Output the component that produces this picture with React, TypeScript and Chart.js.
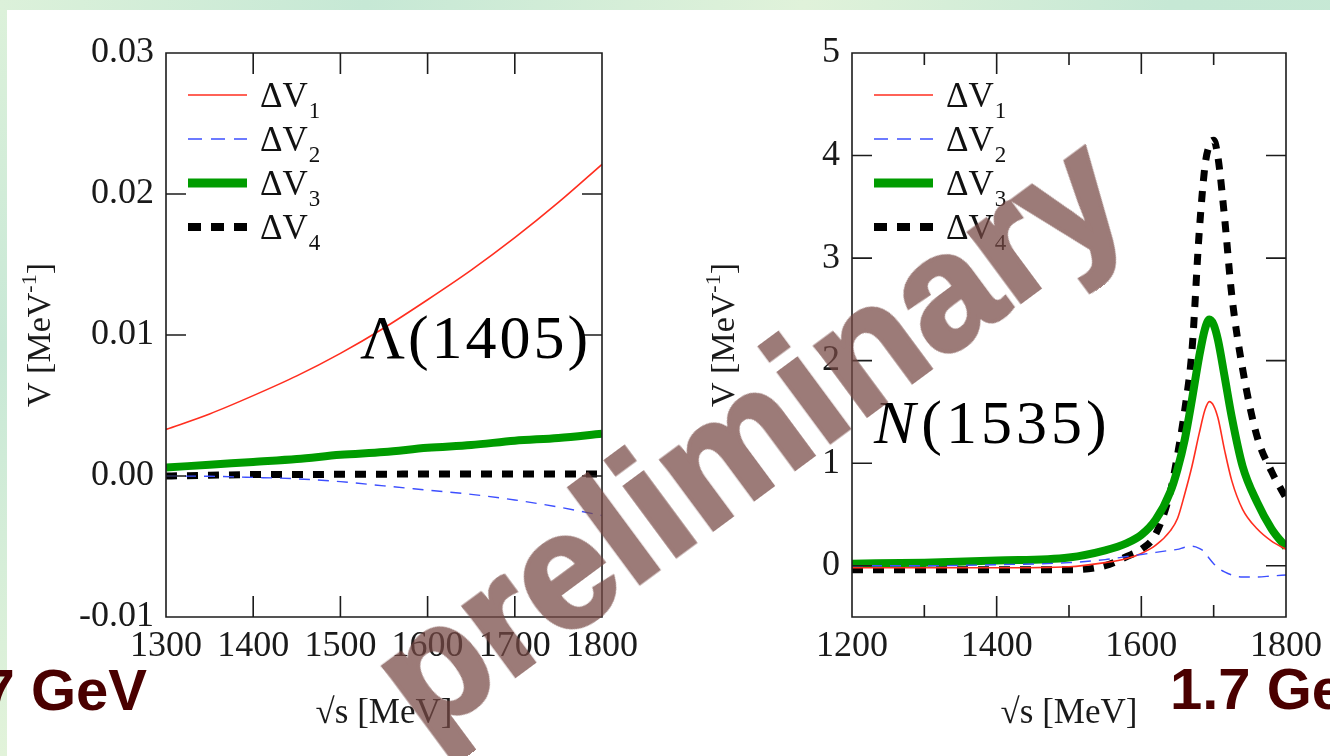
import React, { useEffect, useRef } from "react";
import { Chart, registerables } from "chart.js";

Chart.register(...registerables);

// ---------- Left panel: Lambda(1405) ----------
const LAMBDA_SQRT_S = [1300, 1350, 1400, 1450, 1500, 1550, 1600, 1650, 1700, 1750, 1800];
const LAMBDA_DV1 = [0.0033, 0.0044, 0.0057, 0.0071, 0.0087, 0.0105, 0.0125, 0.0146, 0.0169, 0.0194, 0.0221];
const LAMBDA_DV2 = [0.0, -0.00002, -0.0001, -0.0002, -0.0004, -0.0007, -0.001, -0.0013, -0.0017, -0.0022, -0.0028];
const LAMBDA_DV3 = [0.0006, 0.0008, 0.001, 0.0012, 0.0015, 0.0017, 0.002, 0.0022, 0.0025, 0.0027, 0.003];
const LAMBDA_DV4 = [0.0, 0.00005, 0.0001, 0.0001, 0.00012, 0.00013, 0.00014, 0.00015, 0.00015, 0.00015, 0.00015];
const LAMBDA_X_TICKS = [1300, 1400, 1500, 1600, 1700, 1800];
const LAMBDA_X_LABELS = [1300, 1400, 1500, 1600, 1700, 1800];
const LAMBDA_Y_TICKS = [-0.01, 0, 0.01, 0.02, 0.03];

// ---------- Right panel: N(1535) ----------
const N_SQRT_S = [1200, 1300, 1400, 1500, 1550, 1580, 1600, 1620, 1640, 1650, 1660, 1670, 1680, 1688, 1694, 1700, 1706, 1715, 1725, 1740, 1760, 1780, 1800];
const N_DV1 = [-0.02, -0.02, -0.02, -0.01, 0.03, 0.07, 0.12, 0.2, 0.34, 0.46, 0.7, 0.97, 1.29, 1.52, 1.6, 1.56, 1.44, 1.13, 0.83, 0.55, 0.36, 0.24, 0.16];
const N_DV2 = [0.0, 0.0, 0.01, 0.03, 0.06, 0.09, 0.11, 0.13, 0.15, 0.16, 0.18, 0.19, 0.17, 0.13, 0.07, 0.02, -0.02, -0.06, -0.09, -0.11, -0.11, -0.1, -0.09];
const N_DV3 = [0.02, 0.03, 0.05, 0.08, 0.15, 0.22, 0.3, 0.45, 0.72, 0.94, 1.23, 1.62, 2.04, 2.31, 2.4, 2.35, 2.2, 1.85, 1.45, 0.97, 0.62, 0.36, 0.18];
const N_DV4 = [-0.04, -0.04, -0.04, -0.04, 0.0, 0.09, 0.16, 0.31, 0.72, 1.08, 1.52, 2.1, 3.25, 3.9, 4.1, 4.15, 3.98, 3.4, 2.64, 1.92, 1.26, 0.92, 0.66];
const N_X_TICKS = [1200, 1300, 1400, 1500, 1600, 1700, 1800];
const N_X_LABELS = [1200, 1400, 1600, 1800];
const N_Y_TICKS = [0, 1, 2, 3, 4, 5];

const SUBSCRIPTS = ["1", "2", "3", "4"];

// styles (kept apart from the data)
const STYLES = [
  { color: "#ff2e1f", width: 1.6, dash: [] as number[], legendWidth: 1.6, legendDash: [] as number[], order: 1 },
  { color: "#3d4fff", width: 1.4, dash: [11, 8], legendWidth: 1.4, legendDash: [14, 9], order: 0 },
  { color: "#009c00", width: 8, dash: [] as number[], legendWidth: 9, legendDash: [] as number[], order: 2 },
  { color: "#000000", width: 7, dash: [11, 10], legendWidth: 8, legendDash: [13, 10], order: 3 },
];

const SERIF = '"Liberation Serif", "Times New Roman", serif';
const SANS = '"Liberation Sans", Arial, sans-serif';

type Spec = {
  left: number;
  top: number;
  w: number;
  h: number;
  area: { left: number; right: number; top: number; bottom: number };
  xs: number[];
  ys: number[][];
  xMin: number;
  xMax: number;
  yMin: number;
  yMax: number;
  xTicks: number[];
  xLabels: number[];
  yTicks: number[];
  yFmt: (v: number) => string;
  note: { pre: string; rest: string; x: number; y: number; size: number; spacing: number };
  yTitleX: number;
  xTitleY: number;
};

function decorPlugin(spec: Spec) {
  return {
    id: "decor",
    afterDatasetsDraw(chart: any) {
      const { ctx, chartArea: a } = chart;
      const xs = chart.scales.x;
      const ys = chart.scales.y;
      ctx.save();
      ctx.strokeStyle = "#1c1c1c";
      ctx.lineWidth = 1.6;
      ctx.setLineDash([]);
      ctx.beginPath();
      ctx.rect(a.left, a.top, a.right - a.left, a.bottom - a.top);
      for (const v of spec.xTicks) {
        const p = xs.getPixelForValue(v);
        if (p <= a.left + 1 || p >= a.right - 1) continue;
        const len = spec.xLabels.includes(v) ? 21 : 12;
        ctx.moveTo(p, a.bottom);
        ctx.lineTo(p, a.bottom - len);
        ctx.moveTo(p, a.top);
        ctx.lineTo(p, a.top + len);
      }
      for (const v of spec.yTicks) {
        const p = ys.getPixelForValue(v);
        if (p <= a.top + 1 || p >= a.bottom - 1) continue;
        ctx.moveTo(a.left, p);
        ctx.lineTo(a.left + 20, p);
        ctx.moveTo(a.right, p);
        ctx.lineTo(a.right - 20, p);
      }
      ctx.stroke();
      ctx.restore();
    },
    afterDraw(chart: any) {
      const { ctx, chartArea: a } = chart;
      ctx.save();
      // legend
      const lx0 = a.left + 22;
      const lx1 = a.left + 81;
      const tx = a.left + 94;
      STYLES.forEach((s, i) => {
        const y = a.top + 42 + i * 44;
        ctx.strokeStyle = s.color;
        ctx.lineWidth = s.legendWidth;
        ctx.setLineDash(s.legendDash);
        ctx.lineCap = "butt";
        ctx.beginPath();
        ctx.moveTo(lx0, y);
        ctx.lineTo(lx1, y);
        ctx.stroke();
        ctx.setLineDash([]);
        ctx.fillStyle = "#111";
        ctx.textAlign = "left";
        ctx.textBaseline = "alphabetic";
        ctx.font = `35px ${SERIF}`;
        ctx.fillText("ΔV", tx, y + 12);
        const w = ctx.measureText("ΔV").width;
        ctx.font = `23px ${SERIF}`;
        ctx.fillText(SUBSCRIPTS[i], tx + w + 1, y + 23);
      });
      // note
      const n = spec.note;
      ctx.fillStyle = "#000";
      ctx.textBaseline = "alphabetic";
      try {
        (ctx as any).letterSpacing = `${n.spacing}px`;
      } catch (e) {}
      let nx = n.x;
      if (n.pre) {
        ctx.font = `italic ${n.size}px ${SERIF}`;
        ctx.fillText(n.pre, nx, n.y);
        nx += ctx.measureText(n.pre).width + 2;
      }
      ctx.font = `${n.size}px ${SERIF}`;
      ctx.fillText(n.rest, nx, n.y);
      try {
        (ctx as any).letterSpacing = "0px";
      } catch (e) {}
      // y title
      ctx.save();
      ctx.translate(spec.yTitleX, (a.top + a.bottom) / 2);
      ctx.rotate(-Math.PI / 2);
      ctx.fillStyle = "#1a1a1a";
      ctx.textBaseline = "middle";
      ctx.textAlign = "left";
      ctx.font = `34px ${SERIF}`;
      const p1 = "V [MeV";
      const p3 = "]";
      const w1 = ctx.measureText(p1).width;
      const w3 = ctx.measureText(p3).width;
      ctx.font = `22px ${SERIF}`;
      const p2 = "-1";
      const w2 = ctx.measureText(p2).width;
      let sx = -(w1 + w2 + w3) / 2;
      ctx.font = `34px ${SERIF}`;
      ctx.fillText(p1, sx, 0);
      sx += w1;
      ctx.font = `22px ${SERIF}`;
      ctx.fillText(p2, sx, -11);
      sx += w2;
      ctx.font = `34px ${SERIF}`;
      ctx.fillText(p3, sx, 0);
      ctx.restore();
      // x title
      ctx.fillStyle = "#1a1a1a";
      ctx.textAlign = "center";
      ctx.textBaseline = "alphabetic";
      ctx.font = `35px ${SERIF}`;
      ctx.fillText("√s [MeV]", (a.left + a.right) / 2, spec.xTitleY);
      ctx.restore();
    },
  };
}

function buildConfig(spec: Spec): any {
  const datasets = spec.ys.map((ys, i) => ({
    label: "ΔV" + SUBSCRIPTS[i],
    data: spec.xs.map((x, j) => ({ x, y: ys[j] })),
    borderColor: STYLES[i].color,
    backgroundColor: STYLES[i].color,
    borderWidth: STYLES[i].width,
    borderDash: STYLES[i].dash,
    borderCapStyle: "butt",
    borderJoinStyle: "round",
    pointRadius: 0,
    fill: false,
    cubicInterpolationMode: "monotone",
    order: STYLES[i].order,
  }));
  const tickFont = { family: SERIF, size: 36 };
  return {
    type: "line",
    data: { datasets },
    options: {
      responsive: false,
      animation: false,
      devicePixelRatio: 1,
      events: [],
      layout: {
        padding: { left: 0, top: spec.area.top, right: spec.w - spec.area.right, bottom: 0 },
      },
      plugins: { legend: { display: false }, tooltip: { enabled: false }, title: { display: false } },
      scales: {
        x: {
          type: "linear",
          min: spec.xMin,
          max: spec.xMax,
          grid: { display: false, drawTicks: false },
          border: { display: false },
          afterBuildTicks: (s: any) => {
            s.ticks = spec.xTicks.map((v) => ({ value: v }));
          },
          afterFit: (s: any) => {
            s.height = spec.h - spec.area.bottom;
          },
          ticks: {
            autoSkip: false,
            maxRotation: 0,
            minRotation: 0,
            padding: 8,
            color: "#1a1a1a",
            font: tickFont,
            callback: (v: any) => (spec.xLabels.includes(Number(v)) ? String(v) : ""),
          },
        },
        y: {
          type: "linear",
          min: spec.yMin,
          max: spec.yMax,
          grid: { display: false, drawTicks: false },
          border: { display: false },
          afterBuildTicks: (s: any) => {
            s.ticks = spec.yTicks.map((v) => ({ value: v }));
          },
          afterFit: (s: any) => {
            s.width = spec.area.left;
          },
          ticks: {
            autoSkip: false,
            padding: 12,
            color: "#1a1a1a",
            font: tickFont,
            callback: (v: any) => spec.yFmt(Number(v)),
          },
        },
      },
    },
    plugins: [decorPlugin(spec)],
  };
}

const LEFT_SPEC: Spec = {
  left: 7,
  top: 10,
  w: 658,
  h: 746,
  area: { left: 159, right: 595, top: 43, bottom: 607 },
  xs: LAMBDA_SQRT_S,
  ys: [LAMBDA_DV1, LAMBDA_DV2, LAMBDA_DV3, LAMBDA_DV4],
  xMin: 1300,
  xMax: 1800,
  yMin: -0.01,
  yMax: 0.03,
  xTicks: LAMBDA_X_TICKS,
  xLabels: LAMBDA_X_LABELS,
  yTicks: LAMBDA_Y_TICKS,
  yFmt: (v) => v.toFixed(2),
  note: { pre: "", rest: "Λ(1405)", x: 353, y: 348, size: 62, spacing: 3 },
  yTitleX: 34,
  xTitleY: 713,
};

const RIGHT_SPEC: Spec = {
  left: 665,
  top: 10,
  w: 665,
  h: 746,
  area: { left: 187, right: 623, top: 43, bottom: 607 },
  xs: N_SQRT_S,
  ys: [N_DV1, N_DV2, N_DV3, N_DV4],
  xMin: 1200,
  xMax: 1800,
  yMin: -0.5,
  yMax: 5,
  xTicks: N_X_TICKS,
  xLabels: N_X_LABELS,
  yTicks: N_Y_TICKS,
  yFmt: (v) => String(v),
  note: { pre: "N", rest: "(1535)", x: 209, y: 433, size: 62, spacing: 4 },
  yTitleX: 60,
  xTitleY: 713,
};

function Panel({ spec }: { spec: Spec }) {
  const ref = useRef<HTMLCanvasElement | null>(null);
  useEffect(() => {
    if (!ref.current) return;
    const chart = new Chart(ref.current, buildConfig(spec));
    return () => chart.destroy();
  }, [spec]);
  return (
    <canvas
      ref={ref}
      width={spec.w}
      height={spec.h}
      style={{ position: "absolute", left: spec.left, top: spec.top, width: spec.w, height: spec.h }}
    />
  );
}

export default function App() {
  return (
    <div
      style={{
        position: "fixed",
        left: 0,
        top: 0,
        width: 1330,
        height: 756,
        overflow: "hidden",
        background:
          "linear-gradient(100deg, #dcf1da 0%, #c6e8d5 25%, #e0f2da 55%, #c6e8d5 80%, #c7e9d5 100%)",
      }}
    >
      <div
        style={{
          position: "absolute",
          left: 0,
          top: 10,
          width: 7,
          height: 746,
          background: "linear-gradient(180deg, #dcf1da 0%, #c8e8d6 45%, #e2f3da 100%)",
        }}
      />
      <div style={{ position: "absolute", left: 7, top: 10, width: 1323, height: 746, background: "#ffffff" }} />
      <Panel spec={LEFT_SPEC} />
      <Panel spec={RIGHT_SPEC} />
      <div
        style={{
          position: "absolute",
          right: 1330 - 147,
          top: 661,
          font: `bold 58px ${SANS}`,
          lineHeight: 1,
          color: "#4a0000",
          whiteSpace: "nowrap",
        }}
      >
        1.7 GeV
      </div>
      <div
        style={{
          position: "absolute",
          left: 1170,
          top: 660,
          font: `bold 58px ${SANS}`,
          lineHeight: 1,
          color: "#4a0000",
          whiteSpace: "nowrap",
        }}
      >
        1.7 GeV
      </div>
      <div
        style={{
          position: "absolute",
          left: 748,
          top: 434,
          transform: "translate(-50%, -50%) rotate(-36.5deg)",
          font: `bold 164px ${SANS}`,
          lineHeight: 1,
          color: "rgb(119, 72, 68)",
          WebkitTextStroke: "4px rgb(119, 72, 68)",
          opacity: 0.72,
          whiteSpace: "nowrap",
          pointerEvents: "none",
        }}
      >
        preliminary
      </div>
    </div>
  );
}
